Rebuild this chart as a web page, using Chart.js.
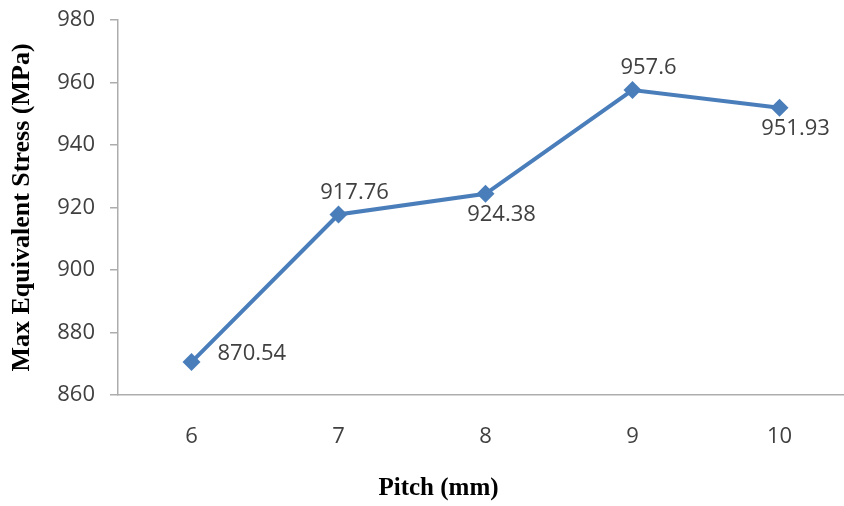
<!DOCTYPE html>
<html>
<head>
<meta charset="utf-8">
<script src="https://cdn.jsdelivr.net/npm/chart.js@4.4.1/dist/chart.umd.min.js"></script>
<style>
  html, body { margin: 0; padding: 0; background: #fff; overflow: hidden; }
  /* the original plot runs a little past the right edge of the picture */
  #wrap { width: 844px; height: 506px; overflow: hidden; }
</style>
</head>
<body>
<div id="wrap"><canvas id="chart" width="853" height="506"></canvas></div>
<script>
const pitchLabels = ['6', '7', '8', '9', '10']
const stressValues = [870.54, 917.76, 924.38, 957.6, 951.93]
const labelPlacement = ['right', 'above', 'below', 'above', 'below']

const lineColor = '#4A7EBB'
const axisColor = '#ADADAD'
const textColor = '#404040'

// value labels next to each marker, Excel style
const pointLabels = {
  id: 'pointLabels',
  afterDatasetsDraw (chart) {
    const ctx = chart.ctx
    const meta = chart.getDatasetMeta(0)
    ctx.save()
    ctx.font = '22px "Open Sans", sans-serif'
    ctx.fillStyle = textColor
    ctx.textBaseline = 'middle'
    meta.data.forEach(function (pt, i) {
      const text = String(stressValues[i])
      const where = labelPlacement[i]
      if (where === 'right') {
        ctx.textAlign = 'left'
        ctx.fillText(text, pt.x + 26, pt.y - 8)
      } else if (where === 'above') {
        ctx.textAlign = 'center'
        ctx.fillText(text, pt.x + 16, pt.y - 22)
      } else {
        ctx.textAlign = 'center'
        ctx.fillText(text, pt.x + 16, pt.y + 21)
      }
    })
    ctx.restore()
  },
}

const config = {
  type: 'line',
  data: {
    labels: pitchLabels,
    datasets: [{
      data: stressValues,
      borderColor: lineColor,
      backgroundColor: lineColor,
      borderWidth: 4,
      pointStyle: 'rectRot',
      pointRadius: 9,
      pointBorderWidth: 0,
      tension: 0,
    }],
  },
  options: {
    responsive: false,
    animation: false,
    layout: {
      autoPadding: false,
      padding: { left: 24, right: 0, top: 20, bottom: 0 },
    },
    plugins: {
      legend: { display: false },
      tooltip: { enabled: false },
      title: {
        display: true,
        position: 'bottom',
        text: 'Pitch (mm)',
        color: '#000',
        font: { family: '"Liberation Serif", serif', size: 25, weight: 'bold' },
        padding: { top: 0, bottom: 2 },
      },
    },
    scales: {
      x: {
        offset: true,
        grid: { display: false, drawTicks: false },
        border: { display: true, color: axisColor, width: 1.5 },
        ticks: {
          color: textColor,
          padding: 29,
          font: { family: '"Open Sans", sans-serif', size: 22 },
        },
        afterFit (scale) {
          scale.height = 79
          scale.paddingRight = 0
        },
      },
      y: {
        min: 860,
        max: 980,
        ticks: {
          stepSize: 20,
          color: textColor,
          padding: 15,
          font: { family: '"Open Sans", sans-serif', size: 22 },
        },
        grid: {
          drawOnChartArea: false,
          drawTicks: true,
          tickLength: 8,
          color: axisColor,
          lineWidth: 1.5,
        },
        border: { display: true, color: axisColor, width: 1.5 },
        title: {
          display: true,
          text: 'Max Equivalent Stress (MPa)',
          color: '#000',
          font: { family: '"Liberation Serif", serif', size: 26, weight: 'bold' },
          padding: { top: -17, bottom: 0 },
        },
        afterFit (scale) {
          scale.width = 94
          scale.paddingTop = 0
        },
      },
    },
  },
  plugins: [pointLabels],
}

const ctx = document.getElementById('chart').getContext('2d')
const myChart = new Chart(ctx, config)
</script>
</body>
</html>
